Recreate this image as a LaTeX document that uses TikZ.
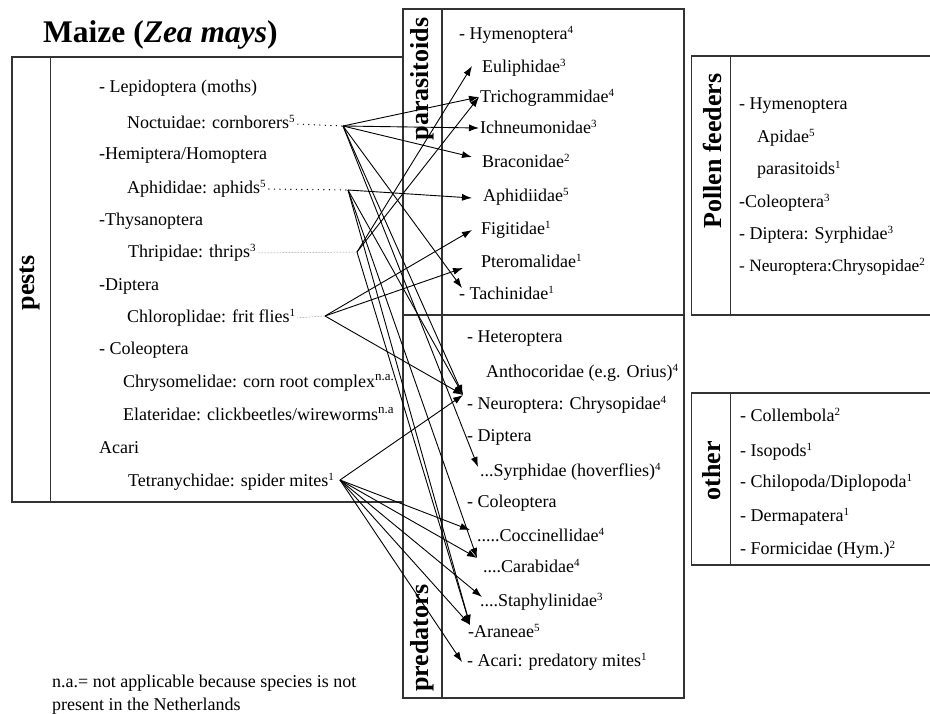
\documentclass[tikz,border=0pt]{standalone}
\usepackage{fontspec}
\setmainfont{Liberation Serif}
\usetikzlibrary{arrows.meta}
\newcommand\sups[1]{\raisebox{6pt}{\fontsize{11}{11}\selectfont #1}}
\newcommand\supna[1]{\raisebox{7pt}{\fontsize{13}{13}\selectfont #1}}

\begin{document}
\begin{tikzpicture}[x=1pt,y=-1pt]
\tikzstyle{item}=[anchor=west,inner sep=0pt,text height=12pt,text depth=4pt,
font=\fontsize{18}{20}\selectfont]
\tikzstyle{head}=[rotate=90,inner sep=0pt,font=\fontsize{26}{28}\selectfont\bfseries]
\tikzstyle{box}=[draw=black!80,line width=1.2pt]
\tikzstyle{link}=[-{Latex[length=10pt,width=7pt]},line width=0.9pt]
\tikzstyle{lead}=[line width=1.4pt,line cap=round,dash pattern=on 0pt off 5.5pt,shorten <=3pt]
\tikzstyle{fine}=[densely dotted,line width=0.5pt,draw=black!60,shorten <=2pt]

\useasboundingbox (0,0) rectangle (930,713);

\node[anchor=base west,inner sep=0pt,font=\fontsize{31.5}{33}\selectfont\bfseries] (title) at (43,42) {Maize (\textit{Zea mays})};

% boxes
\draw[box] (12,57) rectangle (403,502);
\draw[box] (50.7,57) -- (50.7,502);
\draw[box] (403,9) rectangle (684,698);
\draw[box] (442,9) -- (442,698);
\draw[box] (403,315) -- (684,315);
\draw[box] (931,56) -| (691.7,315) -- (931,315);
\draw[box] (730.7,56) -- (730.7,315);
\draw[box] (931,393) -| (691.7,565) -- (931,565);
\draw[box] (730.7,393) -- (730.7,565);

\node[head] (pests) at (30,283) {pests};
\node[head] (paras) at (422,79) {parasitoids};
\node[head] (preds) at (422,638) {predators};
\node[head] (pollen) at (712,151) {Pollen feeders};
\node[head] (other) at (712,471) {other};

% pests
\node[item] (lep) at (99,88) {- Lepidoptera (moths)};
\node[item] (noct) at (127,124) {Noctuidae: cornborers\sups{5}};
\node[item] (hem) at (99,155) {-Hemiptera/Homoptera};
\node[item] (aphd) at (127,189) {Aphididae: aphids\sups{5}};
\node[item] (thy) at (99,221) {-Thysanoptera};
\node[item] (thri) at (128,253) {Thripidae: thrips\sups{3}};
\node[item] (dip) at (99,286) {-Diptera};
\node[item] (chlo) at (127,318) {Chloroplidae: frit flies\sups{1}};
\node[item] (col) at (99,350) {- Coleoptera};
\node[item] (chry) at (123,383) {Chrysomelidae: corn root complex\supna{n.a.}};
\node[item] (elat) at (123,416) {Elateridae: clickbeetles/wireworms\supna{n.a}};
\node[item] (aca) at (99,449) {Acari};
\node[item] (tetr) at (128,482) {Tetranychidae: spider mites\sups{1}};

% parasitoids
\node[item] (hym) at (459,35) {- Hymenoptera\sups{4}};
\node[item] (eul) at (482,68) {Euliphidae\sups{3}};
\node[item] (tri) at (480,98) {Trichogrammidae\sups{4}};
\node[item] (ich) at (480,129) {Ichneumonidae\sups{3}};
\node[item] (bra) at (482,163) {Braconidae\sups{2}};
\node[item] (aphi) at (483,197) {Aphidiidae\sups{5}};
\node[item] (fig) at (481,230) {Figitidae\sups{1}};
\node[item] (pte) at (481,263) {Pteromalidae\sups{1}};
\node[item] (tac) at (459,295) {- Tachinidae\sups{1}};

% predators
\node[item] (het) at (467,338) {- Heteroptera};
\node[item] (ant) at (486,373) {Anthocoridae (e.g. Orius)\sups{4}};
\node[item] (neu) at (467,405) {- Neuroptera: Chrysopidae\sups{4}};
\node[item] (pdip) at (467,437) {- Diptera};
\node[item] (syr) at (480,472) {...Syrphidae (hoverflies)\sups{4}};
\node[item] (pcol) at (467,503) {- Coleoptera};
\node[item] (coc) at (477,537) {.....Coccinellidae\sups{4}};
\node[item] (car) at (483,568) {....Carabidae\sups{4}};
\node[item] (sta) at (480,602) {....Staphylinidae\sups{3}};
\node[item] (ara) at (468,633) {-Araneae\sups{5}};
\node[item] (pmit) at (467,662) {- Acari: predatory mites\sups{1}};

% pollen feeders
\node[item] (phym) at (739,105) {- Hymenoptera};
\node[item] (api) at (757,138) {Apidae\sups{5}};
\node[item] (ppar) at (757,170) {parasitoids\sups{1}};
\node[item] (pco) at (739,203) {-Coleoptera\sups{3}};
\node[item] (psyr) at (739,235) {- Diptera: Syrphidae\sups{3}};
\node[item,font=\fontsize{17.3}{19}\selectfont] (pneu) at (739,267) {- Neuroptera:Chrysopidae\sups{2}};

% other
\node[item] (colle) at (740,417) {- Collembola\sups{2}};
\node[item] (iso) at (740,452) {- Isopods\sups{1}};
\node[item] (chil) at (740,483) {- Chilopoda/Diplopoda\sups{1}};
\node[item] (derm) at (740,517) {- Dermapatera\sups{1}};
\node[item] (form) at (740,550) {- Formicidae (Hym.)\sups{2}};

\node[item] (na1) at (52,683) {n.a.= not applicable because species is not};
\node[item] (na2) at (52,706) {present in the Netherlands};

% hubs and arrow tips
\coordinate (hcb) at (343,126);
\coordinate (haph) at (348,190);
\coordinate (hthr) at (357,252);
\coordinate (hfri) at (325,316);
\coordinate (hspm) at (340,480);

\coordinate (teul) at (472,66);
\coordinate (ttri) at (479,97);
\coordinate (tich) at (479,128);
\coordinate (tbra) at (472,157);
\coordinate (taph) at (472,198);
\coordinate (tfig) at (472,230);
\coordinate (tpte) at (463,268);
\coordinate (ttac) at (462,288);
\coordinate (tneu) at (463,395);
\coordinate (tsyr) at (478,467);
\coordinate (tcoc) at (470,530);
\coordinate (tcar) at (477,558);
\coordinate (tsta) at (482,597);
\coordinate (tara) at (470,625);
\coordinate (taca) at (462,662);

\draw[lead] (noct.east) -- (hcb);
\draw[lead] (aphd.east) -- (haph);
\draw[fine] (thri.east) -- (hthr);
\draw[fine] (chlo.east) -- (hfri);

\path[link] (hcb) edge (ttri);
\path[link] (hcb) edge (tich);
\path[link] (hcb) edge (tbra);
\path[link] (hcb) edge (ttac);
\path[link] (hcb) edge (tneu);
\path[link] (hcb) edge (tsyr);
\path[link] (haph) edge (taph);
\path[link] (haph) edge (tneu);
\path[link] (haph) edge (tcar);
\path[link] (haph) edge (tara);
\path[link] (hthr) edge (teul);
\path[link] (hthr) edge (ttri);
\path[link] (hthr) edge (tara);
\path[link] (hfri) edge (tfig);
\path[link] (hfri) edge (tpte);
\path[link] (hfri) edge (tneu);
\path[link] (hspm) edge (tneu);
\path[link] (hspm) edge (tcoc);
\path[link] (hspm) edge (tcar);
\path[link] (hspm) edge (tsta);
\path[link] (hspm) edge (tara);
\path[link] (hspm) edge (taca);

\end{tikzpicture}
\end{document}
